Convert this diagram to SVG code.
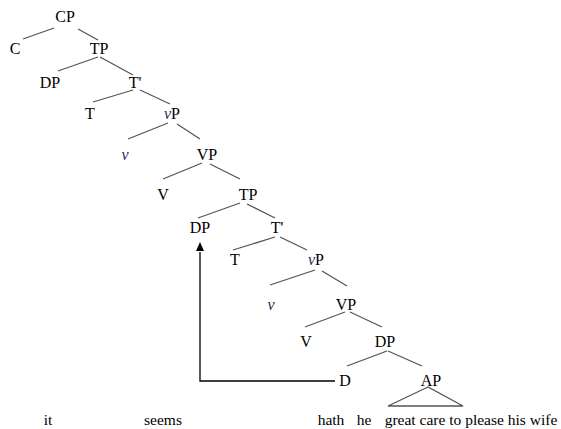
<svg xmlns="http://www.w3.org/2000/svg" width="561" height="429" viewBox="0 0 561 429">
<style>
text{font-size:16px;fill:#000;text-anchor:middle}
.w{font-size:15.5px}
.i{font-style:italic;fill:#1f2d5c}
.e{stroke:#555;stroke-width:1.3;fill:none}
.m{stroke:#000;stroke-width:1.3;fill:none}
</style>
<rect width="561" height="429" fill="#fff"/>
<g id="connectors">
<path class="e" d="M54,28L23,39M78,29L98,40"/>
<path class="e" d="M98,57L58,71M100,57L133,75"/>
<path class="e" d="M133,90L93,102M140,90L170,104"/>
<path class="e" d="M168,123L128,139M177,124L200,139"/>
<path class="e" d="M202,163L163,179M210,164L240,179"/>
<path class="e" d="M240,203L198,218M247,204L275,218"/>
<path class="e" d="M275,237L233,250M280,237L307,250"/>
<path class="e" d="M315,270L270,285M322,271L347,286"/>
<path class="e" d="M345,312L305,327M350,312L382,327"/>
<path class="e" d="M387,351L347,366M388,351L422,366"/>
<path class="e" d="M428,387L388,406L463,406Z"/>
<path class="m" d="M335,381H200V252"/>
<path d="M200,242L196,251L204,251Z" fill="#000"/>
</g>
<g font-family="Liberation Serif, serif">
<g id="n-cp"><text x="65" y="22">CP</text></g>
<g id="n-c"><text x="15" y="54">C</text></g>
<g id="n-tp1"><text x="99" y="54">TP</text></g>
<g id="n-dp1"><text x="50" y="88">DP</text></g>
<g id="n-tbar1"><text x="135" y="88">T'</text></g>
<g id="n-t1"><text x="90" y="119">T</text></g>
<g id="n-vp1"><text x="172" y="119"><tspan class="i">v</tspan>P</text></g>
<g id="n-v1"><text x="125" y="160" class="i">v</text></g>
<g id="n-VP1"><text x="207" y="160">VP</text></g>
<g id="n-V1"><text x="163" y="200">V</text></g>
<g id="n-tp2"><text x="248" y="200">TP</text></g>
<g id="n-dp2"><text x="200" y="233">DP</text></g>
<g id="n-tbar2"><text x="277" y="233">T'</text></g>
<g id="n-t2"><text x="235" y="265">T</text></g>
<g id="n-vp2"><text x="316" y="265"><tspan class="i">v</tspan>P</text></g>
<g id="n-v2"><text x="271" y="310" class="i">v</text></g>
<g id="n-VP2"><text x="346" y="310">VP</text></g>
<g id="n-V2"><text x="306" y="347">V</text></g>
<g id="n-dp3"><text x="385" y="347">DP</text></g>
<g id="n-d"><text x="345" y="386">D</text></g>
<g id="n-ap"><text x="431" y="386">AP</text></g>
<g id="words">
<text class="w" x="48" y="425">it</text>
<text class="w" x="163" y="425">seems</text>
<text class="w" x="331" y="425">hath</text>
<text class="w" x="364" y="425">he</text>
<text class="w" x="471" y="425">great care to please his wife</text>
</g>
</g>
</svg>
